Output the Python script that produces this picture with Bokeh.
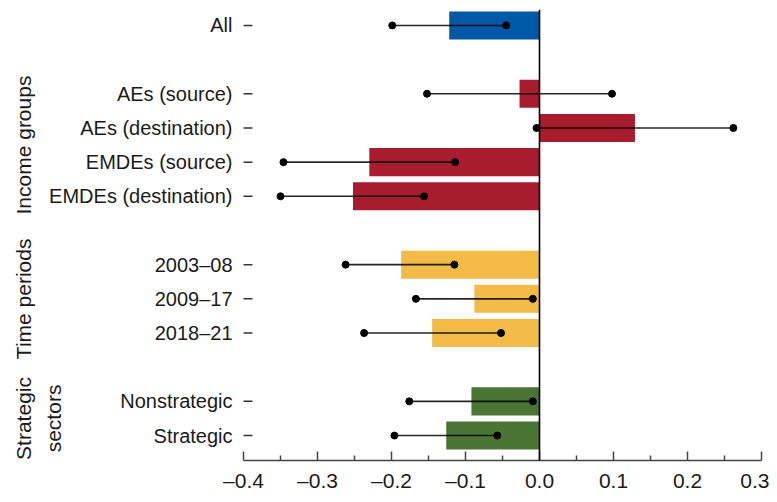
from bokeh.plotting import figure
from bokeh.models import Range1d, FixedTicker, Span, ColumnDataSource
from bokeh.core.properties import value
from bokeh.embed import file_html
from bokeh.resources import INLINE
from math import pi

# ---- data ----
group_names = ["", "Income groups", "Time periods", "Strategic\nsectors"]
group_members = [
    ["All"],
    ["AEs (source)", "AEs (destination)", "EMDEs (source)", "EMDEs (destination)"],
    ["2003\u201308", "2009\u201317", "2018\u201321"],
    ["Nonstrategic", "Strategic"],
]
group_colors = ["#0059A6", "#A81D2E", "#F2BA47", "#4A7535"]

estimate = [-0.122, -0.027, 0.129, -0.230, -0.252, -0.187, -0.088, -0.145, -0.092, -0.126]
lower = [-0.199, -0.152, -0.004, -0.346, -0.350, -0.262, -0.167, -0.237, -0.176, -0.196]
upper = [-0.045, 0.098, 0.262, -0.114, -0.156, -0.115, -0.009, -0.052, -0.009, -0.057]

x_ticks = [-0.4, -0.3, -0.2, -0.1, 0.0, 0.1, 0.2, 0.3]
x_tick_labels = ["\u20130.4", "\u20130.3", "\u20130.2", "\u20130.1", "0.0", "0.1", "0.2", "0.3"]
x_minor = [-0.35, -0.25, -0.15, -0.05, 0.05, 0.15, 0.25]

FONT = "Liberation Sans"
TXT = "#1a1a1a"

# ---- layout constants (pixels) ----
W, H = 769, 494
X_LEFT_PX = 243          # where x = -0.4 sits on the canvas
PX_PER_UNIT = 740.0
XMIN, XMAX = x_ticks[0], x_ticks[-1]
px = lambda n: n / PX_PER_UNIT   # pixel distance -> data distance

# ---- layout of rows (one empty slot between groups) ----
ypos, cats, colors, group_centers = [], [], [], []
slot = 0
for members, col in zip(group_members, group_colors):
    start = slot
    for m in members:
        ypos.append(slot)
        cats.append(m)
        colors.append(col)
        slot += 1
    group_centers.append((start + slot - 1) / 2)
    slot += 1

src = ColumnDataSource(dict(y=ypos, est=estimate, lo=lower, hi=upper, color=colors, cat=cats))

x_start = XMIN - px(X_LEFT_PX)
x_end = XMIN + px(W - X_LEFT_PX)

p = figure(width=W, height=H, output_backend="svg", toolbar_location=None,
           x_range=Range1d(x_start, x_end), y_range=Range1d(12.73, -0.466),
           y_axis_location=None,
           min_border_left=0, min_border_right=0, min_border_top=9, min_border_bottom=32)
p.outline_line_color = None
p.xgrid.visible = False
p.ygrid.visible = False
p.background_fill_color = "white"

p.hbar(y="y", left=0, right="est", height=0.82, color="color", line_color=None, source=src)
p.segment(x0="lo", x1="hi", y0="y", y1="y", line_color="black", line_width=1.6, line_alpha=0.85, source=src)
p.scatter(x="lo", y="y", size=7, color="black", source=src)
p.scatter(x="hi", y="y", size=7, color="black", source=src)

p.add_layout(Span(location=0, dimension="height", line_color="black", line_width=1.6))

# x axis (line limited to the data extent)
xa = p.xaxis[0]
xa.bounds = (XMIN, XMAX)
xa.ticker = FixedTicker(ticks=x_ticks, minor_ticks=x_minor)
xa.major_label_overrides = {t: l for t, l in zip(x_ticks, x_tick_labels)}
xa.axis_line_color = "#444444"
xa.axis_line_width = 1.5
xa.major_tick_in = 9
xa.major_tick_out = 0
xa.minor_tick_in = 5
xa.minor_tick_out = 0
xa.major_tick_line_color = "#444444"
xa.major_tick_line_width = 1.5
xa.minor_tick_line_color = "#444444"
xa.minor_tick_line_width = 1.5
xa.major_label_text_font = FONT
xa.major_label_text_font_size = "21px"
xa.major_label_text_color = TXT
xa.major_label_standoff = 8

# category labels and their small tick marks
p.segment(x0=XMIN, x1=XMIN + px(9), y0="y", y1="y", line_color="#333333", line_width=1.5, source=src)
p.text(x=XMIN - px(11), y="y", text="cat", source=src, text_align="right", text_baseline="middle",
       text_font=value(FONT), text_font_size="20px", text_color=TXT)

# group labels (rotated)
gx, gy, gt = [], [], []
for name, yc in zip(group_names, group_centers):
    if not name:
        continue
    for i, ln in enumerate(name.split("\n")):
        gx.append(XMIN - px(X_LEFT_PX - 23 - 30 * i))
        gy.append(yc)
        gt.append(ln)
p.text(x=gx, y=gy, text=gt, angle=pi / 2, text_align="center", text_baseline="middle",
       text_font=value(FONT), text_font_size="21px", text_color=TXT)

open("out.html", "w").write(file_html(p, INLINE))
